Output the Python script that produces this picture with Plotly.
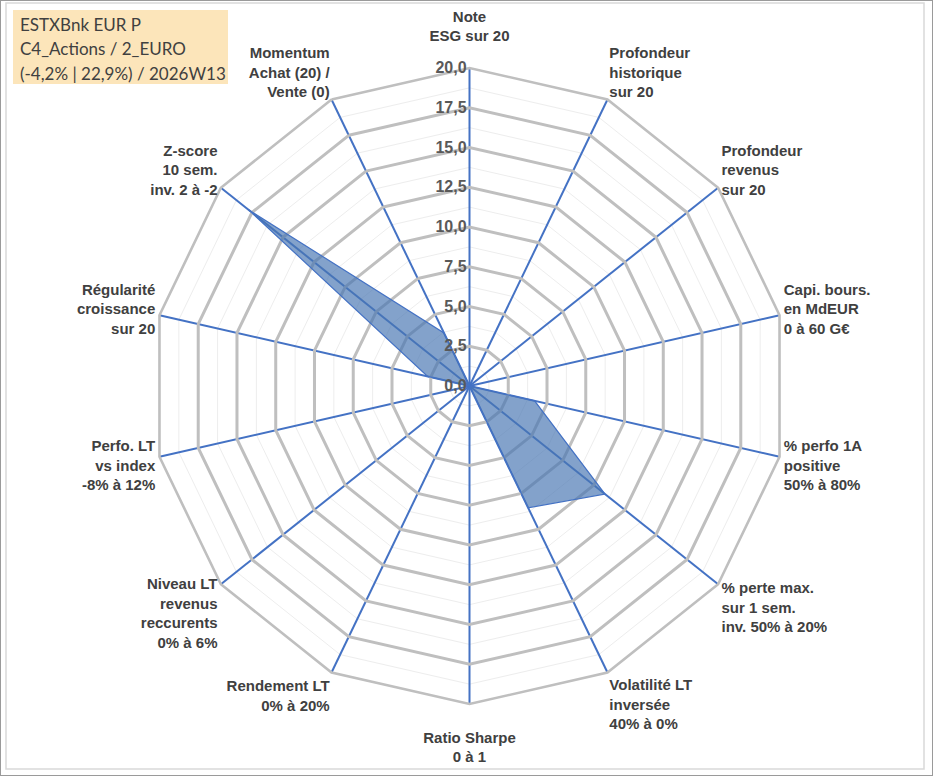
import plotly.graph_objects as go

categories = [
    "Note ESG",
    "Profondeur historique",
    "Profondeur revenus",
    "Capi. bours.",
    "% perfo 1A",
    "% perte max.",
    "Volatilité LT",
    "Ratio Sharpe",
    "Rendement LT",
    "Niveau LT",
    "Perfo. LT",
    "Régularité",
    "Z-score",
    "Momentum",
]
category_labels = [
    "Note<br>ESG sur 20<br> ",
    "Profondeur<br>historique<br>sur 20",
    "Profondeur<br>revenus<br>sur 20",
    "Capi. bours.<br>en MdEUR<br>0 à 60 G€",
    "% perfo 1A<br>positive<br>50% à 80%",
    "% perte max.<br>sur 1 sem.<br>inv. 50% à 20%",
    "Volatilité LT<br>inversée<br>40% à 0%",
    " <br>Ratio Sharpe<br>0 à 1",
    "Rendement LT<br>0% à 20%",
    "Niveau LT<br>revenus<br>reccurents<br>0% à 6%",
    "Perfo. LT<br>vs index<br>-8% à 12%",
    "Régularité<br>croissance<br>sur 20",
    "Z-score<br>10 sem.<br>inv. 2 à -2",
    "Momentum<br>Achat (20) /<br>Vente (0)",
]
values = [0, 0, 0, 0, 4.2, 10.9, 8.5, 0, 0, 0, 0, 2.7, 17.8, 3.7]
radial_major = [0, 2.5, 5, 7.5, 10, 12.5, 15, 17.5, 20]
radial_max = 20
title_lines = ["ESTXBnk EUR P", "C4_Actions / 2_EURO", "(-4,2% | 22,9%) / 2026W13"]

W, H = 933, 776
cx, cy, R = 469.5, 386, 318
dom_x = [(cx - R) / W, (cx + R) / W]
dom_y = [1 - (cy + R) / H, 1 - (cy - R) / H]

fig = go.Figure()

# minor grid layer (underneath)
fig.add_trace(go.Scatterpolar(
    r=[0] * len(categories), theta=categories, mode="lines",
    line=dict(width=0), hoverinfo="skip", showlegend=False, subplot="polar",
))

# data layer
fig.add_trace(go.Scatterpolar(
    r=values + values[:1], theta=categories + categories[:1],
    mode="lines", fill="toself",
    fillcolor="rgba(72,118,178,0.68)",
    line=dict(color="#4472C4", width=1.2),
    hoverinfo="skip", showlegend=False, subplot="polar2",
))

common_ang = dict(type="category", categoryarray=categories, rotation=90,
                  direction="clockwise")

title_annots = []
for i, line in enumerate(title_lines):
    title_annots.append(dict(
        text=line, xref="paper", yref="paper",
        x=18 / W, y=1 - (24 + 24.5 * i) / H, xanchor="left", yanchor="middle",
        align="left", showarrow=False,
        font=dict(family="Lato", size=17, color="#404040"),
    ))

fig.update_layout(
    width=W, height=H,
    margin=dict(l=0, r=0, t=0, b=0),
    paper_bgcolor="white",
    separators=", ",
    polar=dict(
        domain=dict(x=dom_x, y=dom_y),
        gridshape="linear",
        bgcolor="white",
        radialaxis=dict(range=[0, radial_max], dtick=1.25, showticklabels=False,
                        ticks="", showline=False, gridcolor="#EDEDED", gridwidth=1),
        angularaxis=dict(**common_ang, showgrid=False, showticklabels=False,
                         ticks="", showline=False),
    ),
    polar2=dict(
        domain=dict(x=dom_x, y=dom_y),
        gridshape="linear",
        bgcolor="rgba(0,0,0,0)",
        radialaxis=dict(range=[0, radial_max], tickvals=radial_major,
                        tickformat=".1f", angle=90, side="counterclockwise",
                        tickangle=90, ticksuffix="\u00a0\u00a0",
                        ticks="", showline=False,
                        gridcolor="#BFBFBF", gridwidth=2.6,
                        tickfont=dict(family="Liberation Sans", size=16,
                                      color="#595959", weight="bold")),
        angularaxis=dict(**common_ang, tickvals=categories, ticktext=category_labels,
                         showgrid=True, gridcolor="#4472C4",
                         gridwidth=1.5, ticks="", showline=True,
                         linecolor="#BFBFBF", linewidth=2.6,
                         tickfont=dict(family="Liberation Sans", size=15,
                                       color="#404040", weight="bold")),
    ),
    annotations=title_annots,
    shapes=[
        dict(type="rect", xref="paper", yref="paper", layer="below",
             x0=13 / W, x1=228 / W, y0=1 - 84 / H, y1=1 - 10 / H,
             fillcolor="#FCE5BA", line=dict(width=0)),
        dict(type="rect", xref="paper", yref="paper", x0=0, y0=0, x1=1, y1=1,
             line=dict(color="#9A9A9A", width=2)),
        dict(type="rect", xref="paper", yref="paper",
             x0=6 / W, y0=1 - 769 / H, x1=924 / W, y1=1 - 3 / H,
             line=dict(color="#D9D9D9", width=1.5)),
    ],
)

fig.write_html("out.html", config={"displayModeBar": False},
               post_script="document.body.style.margin='0px';")
